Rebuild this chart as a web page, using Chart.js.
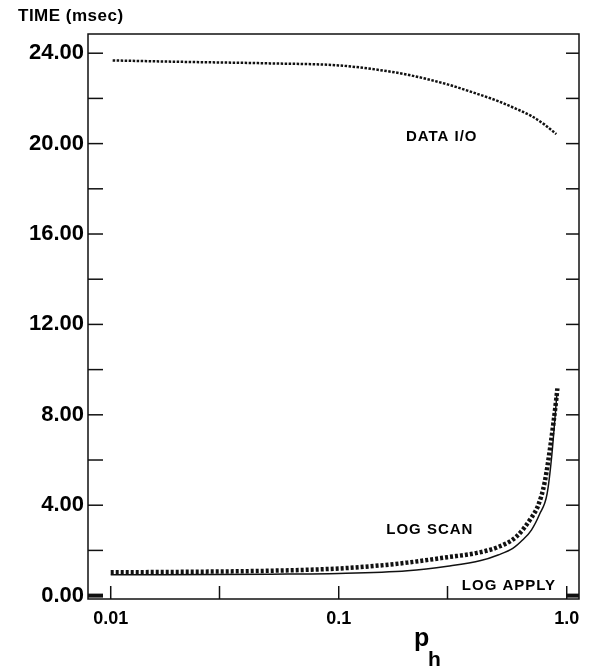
<!DOCTYPE html>
<html>
<head>
<meta charset="utf-8">
<script src="https://cdn.jsdelivr.net/npm/chart.js@4.4.0/dist/chart.umd.min.js"></script>
<style>
  html, body { margin: 0; padding: 0; background: #fff; }
  #wrap { width: 592px; height: 671px; position: relative; }
</style>
</head>
<body>
<div id="wrap"><canvas id="myChart"></canvas></div>
<script>
// p_h values and times (msec)
const dataIoX  = [0.0102, 0.02, 0.05, 0.1, 0.15, 0.2, 0.3, 0.4, 0.5, 0.6, 0.7, 0.8, 0.9];
const dataIoY  = [23.68, 23.62, 23.55, 23.46, 23.26, 23.05, 22.62, 22.22, 21.88, 21.54, 21.22, 20.84, 20.42];

const logScanX = [0.01, 0.02, 0.05, 0.1, 0.15, 0.2, 0.3, 0.4, 0.5, 0.6, 0.7, 0.75, 0.8, 0.85, 0.9, 0.91];
const logScanY = [1.03, 1.05, 1.1, 1.2, 1.33, 1.46, 1.7, 1.88, 2.15, 2.6, 3.45, 4.0, 5.0, 6.7, 8.7, 9.17];

const solidX   = [0.01, 0.05, 0.1, 0.2, 0.3, 0.42, 0.5, 0.58, 0.64, 0.7, 0.76, 0.82, 0.86, 0.905];
const solidY   = [0.92, 0.95, 0.98, 1.1, 1.3, 1.55, 1.8, 2.09, 2.46, 2.9, 3.6, 4.5, 6.2, 8.9];

const xTicks      = [0.01, 0.03, 0.1, 0.3, 1.0];
const xTickLabels = { 0.01: '0.01', 0.1: '0.1', 1: '1.0' };
const yTicks      = [0, 2, 4, 6, 8, 10, 12, 14, 16, 18, 20, 22, 24];

const curveLabels = [
    { text: 'DATA I/O',  x: 0.283, y: 20.3 },
    { text: 'LOG SCAN',  x: 0.251, y: 2.93 },
    { text: 'LOG APPLY', x: 0.558, y: 0.42 }
];

const pts = (xs, ys) => xs.map((v, i) => ({ x: v, y: ys[i] }));

const FONT = "'Liberation Sans', Arial, Helvetica, sans-serif";

const frameAndTicks = {
    id: 'frameAndTicks',
    afterDatasetsDraw(chart) {
        const { ctx, chartArea: a, scales: { x, y } } = chart;
        const line = (x1, y1, x2, y2) => {
            ctx.beginPath(); ctx.moveTo(x1, y1); ctx.lineTo(x2, y2); ctx.stroke();
        };
        ctx.save();
        ctx.strokeStyle = '#111';
        ctx.lineWidth = 1.5;
        ctx.strokeRect(a.left, a.top, a.right - a.left, a.bottom - a.top);

        yTicks.forEach(v => {
            const py = y.getPixelForValue(v);
            ctx.lineWidth = v === 0 ? 4 : 1.5;
            line(a.left, py, a.left + 15, py);
            line(a.right - 13, py, a.right, py);
        });
        ctx.lineWidth = 1.5;
        xTicks.forEach(v => {
            const px = x.getPixelForValue(v);
            line(px, a.bottom, px, a.bottom - 13);
        });

        ctx.fillStyle = '#000';
        ctx.textAlign = 'center';
        ctx.textBaseline = 'middle';
        ctx.font = 'bold 15px ' + FONT;
        ctx.letterSpacing = '1px';
        curveLabels.forEach(l => {
            ctx.fillText(l.text, x.getPixelForValue(l.x), y.getPixelForValue(l.y));
        });

        // axis titles
        ctx.textAlign = 'left';
        ctx.textBaseline = 'alphabetic';
        ctx.letterSpacing = '0.5px';
        ctx.font = 'bold 17px ' + FONT;
        ctx.fillText('TIME (msec)', 18, 21);
        ctx.letterSpacing = '0px';
        ctx.font = 'bold 25px ' + FONT;
        ctx.fillText('p', 414, 646);
        ctx.font = 'bold 21px ' + FONT;
        ctx.fillText('h', 428, 666);
        ctx.restore();
    }
};

new Chart(document.getElementById('myChart').getContext('2d'), {
    type: 'line',
    data: {
        datasets: [
            {
                label: 'DATA I/O',
                data: pts(dataIoX, dataIoY),
                borderColor: '#111',
                borderWidth: 2.5,
                borderDash: [2.5, 1.5],
                pointRadius: 0,
                cubicInterpolationMode: 'monotone'
            },
            {
                label: 'LOG SCAN',
                data: pts(logScanX, logScanY),
                borderColor: '#111',
                borderWidth: 4.5,
                borderDash: [3, 2],
                pointRadius: 0,
                cubicInterpolationMode: 'monotone'
            },
            {
                label: 'solid',
                data: pts(solidX, solidY),
                borderColor: '#111',
                borderWidth: 1.5,
                pointRadius: 0,
                cubicInterpolationMode: 'monotone'
            }
        ]
    },
    options: {
        responsive: true,
        maintainAspectRatio: false,
        animation: false,
        layout: { padding: { left: 0, right: 13, top: 34, bottom: 0 } },
        plugins: { legend: { display: false }, tooltip: { enabled: false } },
        scales: {
            x: {
                type: 'logarithmic',
                min: 0.00795,
                max: 1.132,
                grid: { display: false, drawTicks: false },
                border: { display: false },
                afterBuildTicks: s => { s.ticks = xTicks.map(v => ({ value: v })); },
                afterFit: s => { s.height = 72; },
                ticks: {
                    autoSkip: false,
                    maxRotation: 0,
                    padding: 9,
                    color: '#000',
                    font: { family: FONT, size: 18, weight: 'bold' },
                    callback: v => xTickLabels[v] || ''
                }
            },
            y: {
                min: -0.15,
                max: 24.85,
                grid: { display: false, drawTicks: false },
                border: { display: false },
                afterBuildTicks: s => { s.ticks = yTicks.map(v => ({ value: v })); },
                afterFit: s => { s.width = 88; },
                ticks: {
                    padding: 4,
                    color: '#000',
                    font: { family: FONT, size: 22, weight: 'bold' },
                    callback: v => (v % 4 === 0 ? v.toFixed(2) : '')
                }
            }
        }
    },
    plugins: [frameAndTicks]
});
</script>
</body>
</html>
